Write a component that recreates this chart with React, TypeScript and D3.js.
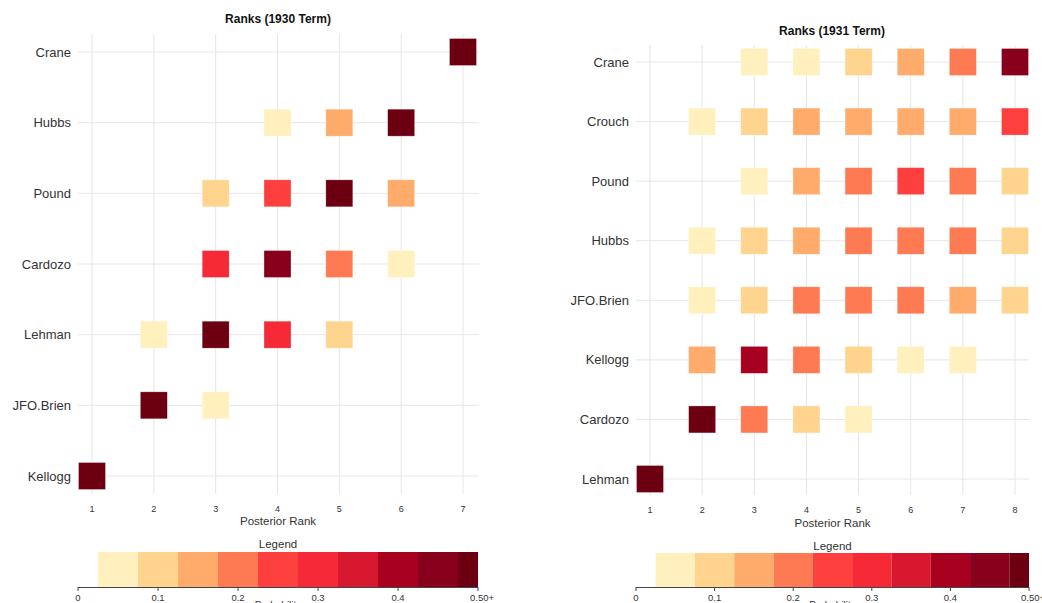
import React from "react";
import * as d3 from "d3";

// Posterior rank probabilities, one array per justice (index = rank - 1; null = not drawn)
const judges1930 = ["Crane", "Hubbs", "Pound", "Cardozo", "Lehman", "JFO.Brien", "Kellogg"];
const ranks1930 = [1, 2, 3, 4, 5, 6, 7];
const crane1930 = [null, null, null, null, null, null, 0.93];
const hubbs1930 = [null, null, null, 0.05, 0.15, 0.78, null];
const pound1930 = [null, null, 0.1, 0.25, 0.55, 0.13, null];
const cardozo1930 = [null, null, 0.3, 0.45, 0.2, 0.05, null];
const lehman1930 = [null, 0.04, 0.58, 0.3, 0.1, null, null];
const obrien1930 = [null, 0.85, 0.05, null, null, null, null];
const kellogg1930 = [0.98, null, null, null, null, null, null];

const judges1931 = ["Crane", "Crouch", "Pound", "Hubbs", "JFO.Brien", "Kellogg", "Cardozo", "Lehman"];
const ranks1931 = [1, 2, 3, 4, 5, 6, 7, 8];
const crane1931 = [null, null, 0.05, 0.05, 0.1, 0.15, 0.2, 0.45];
const crouch1931 = [null, 0.05, 0.1, 0.15, 0.15, 0.15, 0.15, 0.25];
const pound1931 = [null, null, 0.05, 0.15, 0.2, 0.25, 0.2, 0.1];
const hubbs1931 = [null, 0.05, 0.1, 0.15, 0.2, 0.2, 0.2, 0.1];
const obrien1931 = [null, 0.05, 0.1, 0.2, 0.2, 0.2, 0.15, 0.1];
const kellogg1931 = [null, 0.15, 0.4, 0.2, 0.1, 0.05, 0.05, null];
const cardozo1931 = [null, 0.6, 0.2, 0.1, 0.05, null, null, null];
const lehman1931 = [0.97, null, null, null, null, null, null, null];

// Legend bins and ticks
const binEdges = [0.025, 0.075, 0.125, 0.175, 0.225, 0.275, 0.325, 0.375, 0.425, 0.475, 0.5];
const binColors = [
  "#fff0bd", "#fed48f", "#feab6c", "#fd7a52", "#fd3f3e",
  "#f52a36", "#d8182e", "#a8001f", "#88001b", "#6d0010",
];
const legendTicks = [0, 0.1, 0.2, 0.3, 0.4, 0.5];
const legendTickLabels = ["0", "0.1", "0.2", "0.3", "0.4", "0.50+"];

const rows1930 = [crane1930, hubbs1930, pound1930, cardozo1930, lehman1930, obrien1930, kellogg1930];
const rows1931 = [crane1931, crouch1931, pound1931, hubbs1931, obrien1931, kellogg1931, cardozo1931, lehman1931];

const color = d3.scaleThreshold<number, string>()
  .domain(binEdges.slice(1, -1))
  .range(binColors);

const FONT = "'Liberation Sans', Arial, sans-serif";
const TXT = "#333";

type PanelProps = {
  title: string;
  judges: string[];
  ranks: number[];
  rows: (number | null)[][];
  xRange: [number, number];
  yRange: [number, number];
  gridX: [number, number];
  gridY: [number, number];
  titleX: number;
  titleY: number;
  labelRight: number;
  tickY: number;
  axisTitleY: number;
  legendRange: [number, number];
  legendTitleY: number;
  barTop: number;
  barBottom: number;
};

function Panel(p: PanelProps) {
  const x = d3.scalePoint<number>().domain(p.ranks).range(p.xRange);
  const y = d3.scalePoint<string>().domain(p.judges).range(p.yRange);
  const lx = d3.scaleLinear().domain([0, 0.5]).range(p.legendRange);
  const sq = 27;
  const centerX = (p.legendRange[0] + p.legendRange[1]) / 2;
  return (
    <g fontFamily={FONT}>
      <text x={p.titleX} y={p.titleY} textAnchor="middle" fontWeight="bold" fontSize={12} fill="#111">
        {p.title}
      </text>
      {p.judges.map((j) => (
        <line key={"h" + j} x1={p.gridX[0]} x2={p.gridX[1]} y1={y(j)} y2={y(j)} stroke="#e6e6e6" strokeWidth={1} />
      ))}
      {p.ranks.map((r) => (
        <line key={"v" + r} x1={x(r)} x2={x(r)} y1={p.gridY[0]} y2={p.gridY[1]} stroke="#e6e6e6" strokeWidth={1} />
      ))}
      {p.judges.map((j) => (
        <text key={"l" + j} x={p.labelRight} y={(y(j) as number) + 4.5} textAnchor="end" fontSize={13} fill={TXT}>
          {j}
        </text>
      ))}
      {p.rows.map((row, i) =>
        row.map((v, k) =>
          v == null ? null : (
            <rect
              key={i + "-" + k}
              x={(x(p.ranks[k]) as number) - sq / 2}
              y={(y(p.judges[i]) as number) - sq / 2}
              width={sq}
              height={sq}
              fill={color(v)}
              stroke="#ffffff"
              strokeOpacity={0.5}
              strokeWidth={0.6}
            />
          )
        )
      )}
      {p.ranks.map((r) => (
        <text key={"t" + r} x={x(r)} y={p.tickY} textAnchor="middle" fontSize={9} fill={TXT}>
          {r}
        </text>
      ))}
      <text x={centerX} y={p.axisTitleY} textAnchor="middle" fontSize={11.5} fill={TXT}>
        Posterior Rank
      </text>
      <text x={centerX} y={p.legendTitleY} textAnchor="middle" fontSize={11.5} fill={TXT}>
        Legend
      </text>
      {binColors.map((c, i) => (
        <rect
          key={"b" + i}
          x={lx(binEdges[i])}
          y={p.barTop}
          width={lx(binEdges[i + 1]) - lx(binEdges[i])}
          height={p.barBottom - p.barTop}
          fill={c}
        />
      ))}
      <line x1={lx(0)} x2={lx(0.5)} y1={p.barBottom + 0.5} y2={p.barBottom + 0.5} stroke="#444" strokeWidth={1} />
      {legendTicks.map((t, i) => (
        <g key={"lt" + i}>
          <line x1={lx(t)} x2={lx(t)} y1={p.barBottom} y2={p.barBottom + 4} stroke="#444" strokeWidth={1} />
          <text x={lx(t) + (i === legendTicks.length - 1 ? 4 : 0)} y={p.barBottom + 14} textAnchor="middle" fontSize={9.5} fill={TXT}>
            {legendTickLabels[i]}
          </text>
        </g>
      ))}
      <text x={centerX} y={p.barBottom + 22} textAnchor="middle" fontSize={10} fill={TXT}>
        Probability
      </text>
    </g>
  );
}

export default function App() {
  return (
    <div style={{ position: "absolute", left: 0, top: 0 }}>
      <svg width={1042} height={603} style={{ display: "block", background: "#fff" }}>
        <Panel
          title="Ranks (1930 Term)"
          judges={judges1930}
          ranks={ranks1930}
          rows={rows1930}
          xRange={[92, 463]}
          yRange={[52, 476]}
          gridX={[78, 479]}
          gridY={[34, 494]}
          titleX={278}
          titleY={23}
          labelRight={71}
          tickY={512}
          axisTitleY={525}
          legendRange={[78, 478]}
          legendTitleY={548}
          barTop={552}
          barBottom={587}
        />
        <Panel
          title="Ranks (1931 Term)"
          judges={judges1931}
          ranks={ranks1931}
          rows={rows1931}
          xRange={[650, 1015]}
          yRange={[62, 479]}
          gridX={[636, 1029]}
          gridY={[45, 495]}
          titleX={832}
          titleY={35}
          labelRight={629}
          tickY={513}
          axisTitleY={527}
          legendRange={[636, 1029]}
          legendTitleY={550}
          barTop={553}
          barBottom={587}
        />
      </svg>
    </div>
  );
}
